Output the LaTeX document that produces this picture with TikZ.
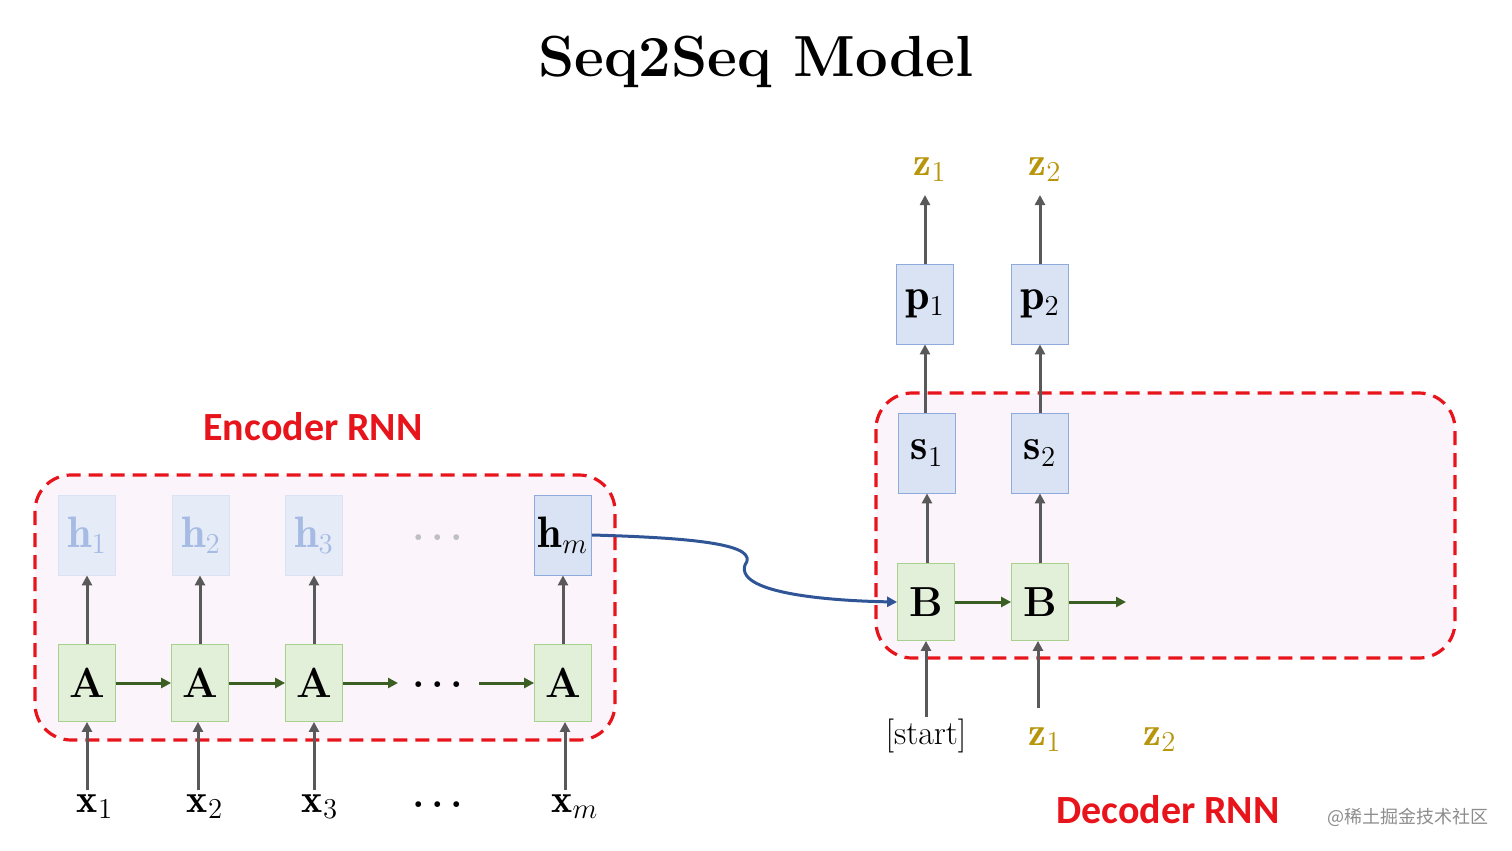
\documentclass[tikz,border=0pt]{standalone}
\usepackage{fontspec}
\newfontfamily\carl{Carlito}
\newfontfamily\cjk{Noto Sans CJK SC}
\usetikzlibrary{arrows.meta}
\definecolor{gfill}{HTML}{E2EFD9}\definecolor{gline}{HTML}{A9D18E}
\definecolor{bfill}{HTML}{DAE3F3}\definecolor{bline}{HTML}{8FAADC}
\definecolor{gold}{HTML}{B8960C}\definecolor{arr}{HTML}{595959}
\definecolor{garr}{HTML}{3B5E23}\definecolor{rd}{HTML}{E8141B}
\definecolor{pinkf}{HTML}{FBF5FB}\definecolor{blu}{HTML}{2F5597}
\newcommand\mydots{\textbf{.\,.\,.}}
\tikzset{
 gbox/.style={draw=gline,fill=gfill,minimum width=28.5pt,minimum height=38.5pt,inner sep=0pt,font=\fontsize{21}{22}\selectfont\bfseries},
 bbox/.style={draw=bline,fill=bfill,minimum width=28.5pt,minimum height=40pt,inner sep=0pt,font=\fontsize{22}{22}\selectfont},
 fbox/.style={draw=bfill,fill=bfill!70,minimum width=28.5pt,minimum height=40pt,inner sep=0pt,text=bline!80,font=\fontsize{22}{22}\selectfont},
 lab/.style={font=\fontsize{20}{22}\selectfont,inner sep=1pt},
 up/.style={draw=arr,line width=1.5pt,-{Triangle[length=5pt,width=5pt]}},
 rt/.style={draw=garr,line width=1.5pt,-{Triangle[length=5pt,width=5pt]}},
 frame/.style={draw=rd,dashed,dash pattern=on 7pt off 4pt,line width=1.6pt,rounded corners=18pt,fill=pinkf},
 rnn/.style={text=rd,font=\carl\fontsize{20}{20}\selectfont\bfseries}
}
\begin{document}
\begin{tikzpicture}[x=0.5pt,y=-0.5pt]
\useasboundingbox (0,0) rectangle (1512,851);
\node[font=\fontsize{29}{34}\selectfont\bfseries] (title) at (756,62) {Seq2Seq Model};
% encoder
\draw[frame] (35,475) rectangle (615,740);
\node[rnn] (enc) at (313,427) {Encoder RNN};
\foreach \n/\x in {1/87,2/200,3/314,4/563}{\node[gbox] (a\n) at (\x,683) {A};}
\node[fbox] (h1) at (87,535) {$\mathbf{h}_1$};
\node[fbox] (h2) at (201,535) {$\mathbf{h}_2$};
\node[fbox] (h3) at (314,535) {$\mathbf{h}_3$};
\node[bbox] (h4) at (563,535) {$\mathbf{h}_m$};
\node[lab,text=black!25] (hd) at (438,538) {\mydots};
\node[lab] (ad) at (438,685) {\mydots};
\node[lab] (xd) at (438,805) {\mydots};
\node[lab] (x1) at (95,807) {$\mathbf{x}_1$};
\node[lab] (x2) at (205,807) {$\mathbf{x}_2$};
\node[lab] (x3) at (320,807) {$\mathbf{x}_3$};
\node[lab] (x4) at (575,807) {$\mathbf{x}_m$};
\foreach \n/\x in {1/87,2/198,3/314,4/565}{
 \coordinate (xb\n) at (\x,790);
 \draw[up] (xb\n) -- (a\n.south -| xb\n);
 \draw[up] (a\n.north) -- (h\n.south -| a\n.north);}
\draw[rt] (a1) -- (a2);
\draw[rt] (a2) -- (a3);
\draw[rt] (a3.east) -- (398,683);
\draw[rt] (479,683) -- (a4.west);
% decoder
\draw[frame] (876,393) rectangle (1455,658);
\node[rnn] (dec) at (1168,810) {Decoder RNN};
\node[gbox] (b1) at (926,602) {B};
\node[gbox] (b2) at (1040,602) {B};
\node[bbox] (s1) at (927,453) {$\mathbf{s}_1$};
\node[bbox] (s2) at (1040,453) {$\mathbf{s}_2$};
\node[bbox] (p1) at (925,304) {$\mathbf{p}_1$};
\node[bbox] (p2) at (1040,304) {$\mathbf{p}_2$};
\node[lab,text=gold] (z1t) at (930,170) {$\mathbf{z}_1$};
\node[lab,text=gold] (z2t) at (1045,170) {$\mathbf{z}_2$};
\node[lab,font=\fontsize{17}{19}\selectfont] (st) at (926,736) {[start]};
\node[lab,text=gold] (z1b) at (1045,740) {$\mathbf{z}_1$};
\node[lab,text=gold] (z2b) at (1160,740) {$\mathbf{z}_2$};
\coordinate (e) at (1126,602);
\coordinate (t1) at (925,195);
\coordinate (t2) at (1040,195);
\coordinate (u2) at (1038,708);
\draw[up] (p1.north) -- (t1);
\draw[up] (p2.north) -- (t2);
\draw[up] (s1.north -| p1) -- (p1.south);
\draw[up] (s2.north) -- (p2.south);
\draw[up] (b1.north -| s1) -- (s1.south);
\draw[up] (b2.north -| s2) -- (s2.south);
\draw[up] (st.north) -- (b1.south);
\draw[up] (u2) -- (b2.south -| u2);
\draw[rt] (b1) -- (b2);
\draw[rt] (b2.east) -- (e);
\draw[blu,line width=1.5pt,-{Triangle[length=5pt,width=5pt]}] (h4.east) .. controls (700,538) and (760,545) .. (745,565) .. controls (735,595) and (840,601) .. (b1.west);
\node[text=black!45,font=\cjk\fontsize{9}{10}\selectfont] (wm) at (1408,817) {@稀土掘金技术社区};
\end{tikzpicture}
\end{document}
